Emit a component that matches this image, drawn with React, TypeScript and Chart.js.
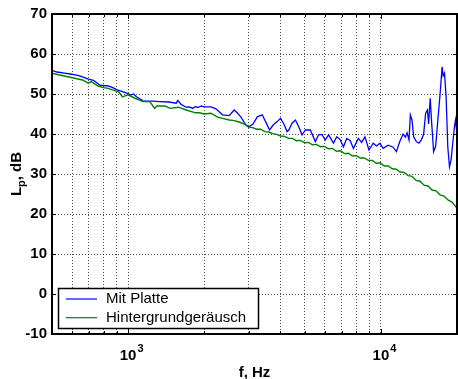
import React, { useEffect, useRef } from 'react';
import { Chart, registerables } from 'chart.js';

Chart.register(...registerables);

const seriesNames = ['Mit Platte', 'Hintergrundgeräusch'];
const seriesColors = ['#0000ff', '#008000'];

const blueFreq = [500, 523, 560, 590, 627, 660, 696, 730, 774, 834, 870, 900, 950, 1000, 1020, 1050, 1079, 1145, 1250, 1332, 1450, 1550, 1573, 1620, 1697, 1750, 1801, 1850, 1885, 1950, 2002, 2127, 2226, 2362, 2511, 2627, 2700, 2791, 2920, 3009, 3120, 3243, 3393, 3499, 3628, 3756, 3888, 4009, 4131, 4256, 4322, 4453, 4592, 4731, 4875, 5027, 5260, 5503, 5669, 5842, 6025, 6208, 6494, 6690, 6900, 7110, 7326, 7555, 7785, 8144, 8390, 8648, 8968, 9328, 9610, 9911, 10210, 10683, 11177, 11517, 11877, 12240, 12500, 12690, 12920, 13075, 13275, 13480, 13805, 14150, 14470, 14760, 15030, 15280, 15440, 15670, 15910, 16160, 16470, 16800, 17155, 17465, 17630, 17850, 18110, 18390, 18675, 18950, 19240, 19540, 19720, 20000];
const blueDb = [55.9, 55.5, 55.2, 55.0, 54.7, 54.3, 53.7, 53.4, 52.2, 52.0, 51.6, 51.1, 50.6, 50.1, 49.7, 50.0, 49.3, 48.3, 48.2, 48.1, 48.0, 47.7, 48.4, 47.4, 46.7, 46.8, 46.4, 46.9, 46.6, 47.0, 46.8, 46.8, 46.3, 44.8, 44.6, 46.0, 45.3, 44.3, 42.3, 41.8, 42.5, 44.3, 44.8, 43.1, 41.0, 42.3, 43.1, 43.9, 42.5, 40.6, 41.0, 42.7, 43.5, 41.8, 39.8, 41.0, 41.0, 38.1, 39.8, 39.9, 38.5, 39.8, 37.7, 39.3, 38.6, 36.8, 38.9, 38.4, 36.4, 38.9, 37.9, 39.3, 36.0, 37.7, 37.0, 37.7, 36.4, 37.2, 36.7, 35.6, 38.1, 40.0, 39.2, 40.3, 38.5, 44.8, 43.5, 39.3, 38.1, 37.7, 38.6, 40.0, 45.2, 46.0, 42.5, 48.9, 42.0, 35.6, 37.0, 43.5, 50.2, 56.8, 54.5, 55.2, 49.3, 36.8, 31.8, 33.5, 37.7, 41.8, 43.5, 40.0];

const greenFreq = [500, 530, 590, 627, 660, 696, 715, 760, 800, 834, 880, 920, 950, 980, 1000, 1060, 1145, 1220, 1273, 1300, 1400, 1470, 1580, 1697, 1850, 1913, 2002, 2127, 2260, 2362, 2511, 2600, 2749, 2900, 3000, 3110, 3225, 3345, 3470, 3600, 3730, 3870, 4010, 4160, 4310, 4470, 4640, 4810, 4990, 5170, 5360, 5560, 5770, 5980, 6200, 6430, 6670, 6920, 7170, 7440, 7710, 8000, 8290, 8600, 8920, 9250, 9590, 9940, 10310, 10690, 11090, 11500, 11920, 12360, 12820, 13290, 13780, 14290, 14820, 15370, 15940, 16520, 17130, 17770, 18420, 19100, 19810, 20000];
const greenDb = [55.2, 54.8, 54.2, 53.8, 53.5, 52.7, 53.1, 52.0, 51.6, 51.4, 50.9, 50.5, 49.3, 49.6, 49.8, 49.0, 48.1, 48.1, 46.4, 47.0, 47.0, 46.4, 46.7, 46.0, 45.3, 45.3, 45.0, 45.2, 44.2, 43.9, 43.5, 43.4, 43.0, 42.4, 41.7, 41.6, 41.2, 41.2, 40.6, 40.5, 40.1, 39.9, 39.5, 39.4, 38.9, 38.9, 38.3, 38.4, 37.8, 37.9, 37.3, 37.4, 36.8, 36.9, 36.3, 36.4, 35.7, 35.8, 35.1, 35.2, 34.5, 34.6, 34.0, 34.0, 33.4, 33.4, 32.7, 32.8, 32.0, 32.0, 31.3, 31.2, 30.5, 30.4, 29.6, 29.4, 28.4, 28.2, 27.2, 27.0, 26.0, 25.8, 24.8, 24.5, 23.5, 23.0, 21.8, 21.2];

const xGridTicks = [500, 600, 700, 800, 900, 1000, 2000, 3000, 4000, 5000, 6000, 7000, 8000, 9000, 10000, 20000];
const xLabelTicks = [1000, 10000];
const xLabelBase = ['10', '10'];
const xLabelExp = ['3', '4'];
const yMin = -10;
const yMax = 70;
const yStep = 10;
const xMin = 500;
const xMax = 20000;
const xTitle = 'f, Hz';
const yTitleMain = 'L';
const yTitleSub = 'p';
const yTitleRest = ', dB';

const FONT = '"Liberation Sans", Arial, Helvetica, sans-serif';

const decorPlugin = {
  id: 'decor',
  afterDraw(chart: any) {
    const ctx = chart.ctx;
    const a = chart.chartArea;
    const xs = chart.scales.x;
    const ys = chart.scales.y;
    ctx.save();
    // tick marks
    ctx.strokeStyle = '#000';
    ctx.lineWidth = 1;
    ctx.beginPath();
    ys.ticks.forEach((t: any) => {
      const y = Math.round(ys.getPixelForValue(t.value)) + 0.5;
      ctx.moveTo(a.left, y); ctx.lineTo(a.left + 4, y);
      ctx.moveTo(a.right, y); ctx.lineTo(a.right - 4, y);
    });
    xGridTicks.forEach((v) => {
      const x = Math.round(xs.getPixelForValue(v)) + 0.5;
      const len = xLabelTicks.includes(v) ? 5 : 3;
      ctx.moveTo(x, a.bottom); ctx.lineTo(x, a.bottom - len);
      ctx.moveTo(x, a.top); ctx.lineTo(x, a.top + len);
    });
    ctx.stroke();
    // frame
    ctx.lineWidth = 2;
    ctx.strokeRect(a.left, a.top, a.right - a.left, a.bottom - a.top);

    // x tick labels with superscript
    ctx.fillStyle = '#000';
    ctx.textBaseline = 'alphabetic';
    xLabelTicks.forEach((v, i) => {
      const x = xs.getPixelForValue(v);
      ctx.font = `bold 15px ${FONT}`;
      ctx.textAlign = 'center';
      ctx.fillText(xLabelBase[i], x, 360);
      const w = ctx.measureText(xLabelBase[i]).width;
      ctx.font = `bold 11px ${FONT}`;
      ctx.textAlign = 'left';
      ctx.fillText(xLabelExp[i], x + w / 2 + 1, 352);
    });

    // x title
    ctx.font = `bold 15px ${FONT}`;
    ctx.textAlign = 'center';
    ctx.fillText(xTitle, (a.left + a.right) / 2, 377);

    // y title (rotated) with subscript
    ctx.save();
    ctx.translate(21, (a.top + a.bottom) / 2);
    ctx.rotate(-Math.PI / 2);
    ctx.textAlign = 'left';
    ctx.font = `bold 15px ${FONT}`;
    const wL = ctx.measureText(yTitleMain).width;
    const wR = ctx.measureText(yTitleRest).width;
    ctx.font = `bold 11px ${FONT}`;
    const wS = ctx.measureText(yTitleSub).width;
    let cx = -(wL + wS + wR) / 2;
    ctx.font = `bold 15px ${FONT}`;
    ctx.fillText(yTitleMain, cx, 0);
    cx += wL;
    ctx.font = `bold 11px ${FONT}`;
    ctx.fillText(yTitleSub, cx, 4);
    cx += wS;
    ctx.font = `bold 15px ${FONT}`;
    ctx.fillText(yTitleRest, cx, 0);
    ctx.restore();

    // legend
    const lx = 58.5, ly = 288.5, lw = 200, lh = 40;
    ctx.fillStyle = '#fff';
    ctx.fillRect(lx, ly, lw, lh);
    ctx.strokeStyle = '#000';
    ctx.lineWidth = 1.5;
    ctx.strokeRect(lx, ly, lw, lh);
    chart.data.datasets.forEach((ds: any, i: number) => {
      const y = 299 + i * 18.7;
      ctx.strokeStyle = ds.borderColor;
      ctx.lineWidth = 1.2;
      ctx.beginPath();
      ctx.moveTo(66, y); ctx.lineTo(97, y);
      ctx.stroke();
      ctx.fillStyle = '#000';
      ctx.font = `15px ${FONT}`;
      ctx.textAlign = 'left';
      ctx.textBaseline = 'middle';
      ctx.fillText(ds.label, 106, y);
    });
    ctx.restore();
  },
};

export default function App() {
  const ref = useRef<HTMLCanvasElement | null>(null);
  useEffect(() => {
    if (!ref.current) return;
    const chart = new Chart(ref.current, {
      type: 'line',
      data: {
        datasets: [
          {
            label: seriesNames[0],
            data: blueFreq.map((f, i) => ({ x: f, y: blueDb[i] })),
            borderColor: seriesColors[0],
            borderWidth: 1.3,
            pointRadius: 0,
            tension: 0,
            order: 1,
          },
          {
            label: seriesNames[1],
            data: greenFreq.map((f, i) => ({ x: f, y: greenDb[i] })),
            borderColor: seriesColors[1],
            borderWidth: 1.4,
            pointRadius: 0,
            tension: 0,
            order: 0,
          },
        ],
      },
      options: {
        responsive: false,
        animation: false,
        devicePixelRatio: 1,
        layout: { padding: { top: 14, right: 1, left: 0, bottom: 0 } },
        plugins: { legend: { display: false }, tooltip: { enabled: false } },
        scales: {
          x: {
            type: 'logarithmic',
            min: xMin,
            max: xMax,
            afterBuildTicks: (s: any) => {
              s.ticks = xGridTicks.map((v) => ({ value: v }));
            },
            afterFit: (s: any) => {
              s.height = 45;
            },
            ticks: { display: false },
            grid: { color: 'rgba(0,0,0,0.7)', lineWidth: 1, drawTicks: false },
            border: { display: false, dash: [1, 2] },
          },
          y: {
            min: yMin,
            max: yMax,
            ticks: {
              stepSize: yStep,
              color: '#000',
              padding: 5,
              font: { family: FONT, size: 15, weight: 'bold' },
            },
            afterFit: (s: any) => {
              s.width = 52;
            },
            grid: { color: 'rgba(0,0,0,0.7)', lineWidth: 1, drawTicks: false },
            border: { display: false, dash: [1, 2] },
          },
        },
      },
      plugins: [decorPlugin],
    } as any);
    return () => chart.destroy();
  }, []);
  return (
    <div style={{ position: 'absolute', left: 0, top: 0, width: 458, height: 379, background: '#fff' }}>
      <canvas ref={ref} width={458} height={379} />
    </div>
  );
}
